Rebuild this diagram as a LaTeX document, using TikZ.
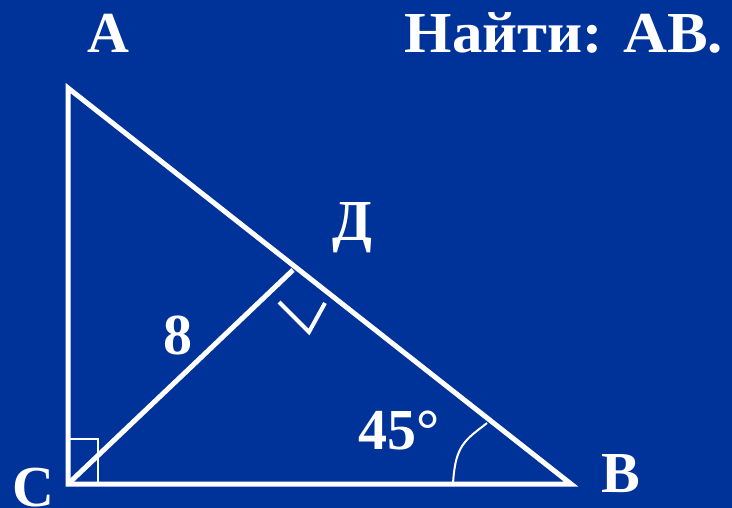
\documentclass[tikz,border=0pt]{standalone}
\usepackage{fontspec}
\setmainfont{Liberation Serif}
\definecolor{bgblue}{RGB}{0,51,153}
\begin{document}
\begin{tikzpicture}[x=1pt,y=-1pt,
  lbl/.style={text=white,font=\fontsize{58}{60}\selectfont\bfseries,inner sep=0pt,anchor=base},
  side/.style={draw=white,line width=5pt},
  thinsq/.style={draw=white,line width=1.2pt},
  anglearc/.style={draw=white,line width=2pt}]
\fill[bgblue] (0,0) rectangle (732,508);
\useasboundingbox (0,0) rectangle (732,508);
\coordinate (A) at (68,88);
\coordinate (C) at (68,484);
\coordinate (B) at (571,484);
\coordinate (D) at (293,270);
\draw[side,line join=miter] (A) -- (C) -- (B) -- cycle;
\draw[side] (C) -- (D);
\draw[thinsq] (69,484) -- (69,439) -- (98,439) -- (98,484);
\draw[draw=white,line width=4pt] (279,302) -- (309,332) -- (325,303);
\draw[anglearc] (453,484) .. controls (455,450) and (462,442) .. (482,427) -- (487,423);
\node[lbl] (lA) at (108,53) {A};
\node[lbl,xscale=1.05] (task) at (564,53) {Найти: АВ.};
\node[lbl] (lD) at (352,241) {Д};
\node[lbl] (l8) at (178,355) {8};
\node[lbl] (l45) at (399,449) {45°};
\node[lbl] (lB) at (621,492) {B};
\node[lbl] (lC) at (33,506) {C};
\end{tikzpicture}
\end{document}
